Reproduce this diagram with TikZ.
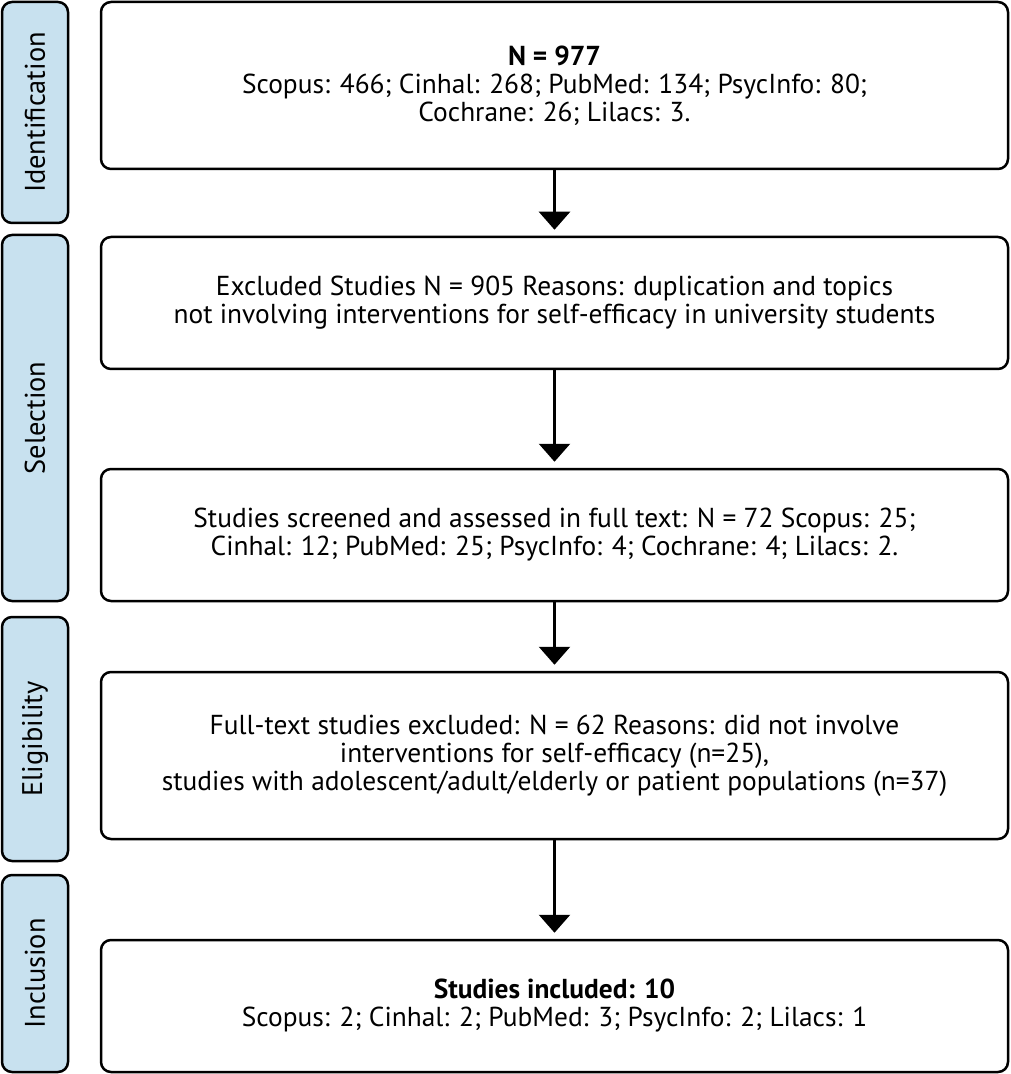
\documentclass[tikz,border=0pt]{standalone}
\usepackage{fontspec}
\setmainfont{PT Sans}
\usepackage{tikz}
\usetikzlibrary{arrows.meta,shapes}
\definecolor{phaseblue}{RGB}{200,225,239}
\tikzset{
  stepbox/.style = {draw=black, line width=1.25pt, rounded corners=5pt, align=center,
    inner sep=0pt, text centered, minimum width=453.5pt,
    font=\fontsize{13.7}{14}\selectfont},
  phase/.style = {draw=black, fill=phaseblue, line width=1.25pt, rounded corners=5pt,
    rotate=90, inner sep=0pt, minimum height=33pt,
    font=\fontsize{14.2}{15}\selectfont},% bandeau lateral
  flow/.style = {-{Triangle[width=15.5pt,length=9pt]}, line width=1.25pt, shorten >=3pt},
}
\begin{document}
\begin{tikzpicture}[x=0.5pt,y=-0.5pt]
\useasboundingbox (0,0) rectangle (1010,1074);
% phases
\node [phase, minimum width=110.5pt] (identification) at (35,112.5) {Identification};
\node [phase, minimum width=183pt] (selection) at (35,418) {Selection};
\node [phase, minimum width=122pt] (eligibility) at (35,739) {Eligibility};
\node [phase, minimum width=98.5pt] (inclusion) at (35,973.5) {Inclusion};
% boxes
\node [stepbox, minimum height=83.5pt] (records) at (554.5,85.5)
  {\textbf{N = 977}\\Scopus: 466; Cinhal: 268; PubMed: 134; PsycInfo: 80;\\Cochrane: 26; Lilacs: 3.};
\node [stepbox, minimum height=66pt] (excluded) at (554.5,303)
  {Excluded Studies N = 905 Reasons: duplication and topics\\not involving interventions for self-efficacy in university students};
\node [stepbox, minimum height=66pt] (screened) at (554.5,535)
  {Studies screened and assessed in full text: N = 72 Scopus: 25;\\Cinhal: 12; PubMed: 25; PsycInfo: 4; Cochrane: 4; Lilacs: 2.};
\node [stepbox, minimum height=83.5pt] (fulltext) at (554.5,755.5)
  {Full-text studies excluded: N = 62 Reasons: did not involve\\interventions for self-efficacy (n=25),\\studies with adolescent/adult/elderly or patient populations (n=37)};
\node [stepbox, minimum height=66pt] (included) at (554.5,1006)
  {\textbf{Studies included: 10}\\Scopus: 2; Cinhal: 2; PubMed: 3; PsycInfo: 2; Lilacs: 1};
% arrows
\draw [flow] (records) -- (excluded);
\draw [flow] (excluded) -- (screened);
\draw [flow] (screened) -- (fulltext);
\draw [flow] (fulltext) -- (included);
\end{tikzpicture}
\end{document}
